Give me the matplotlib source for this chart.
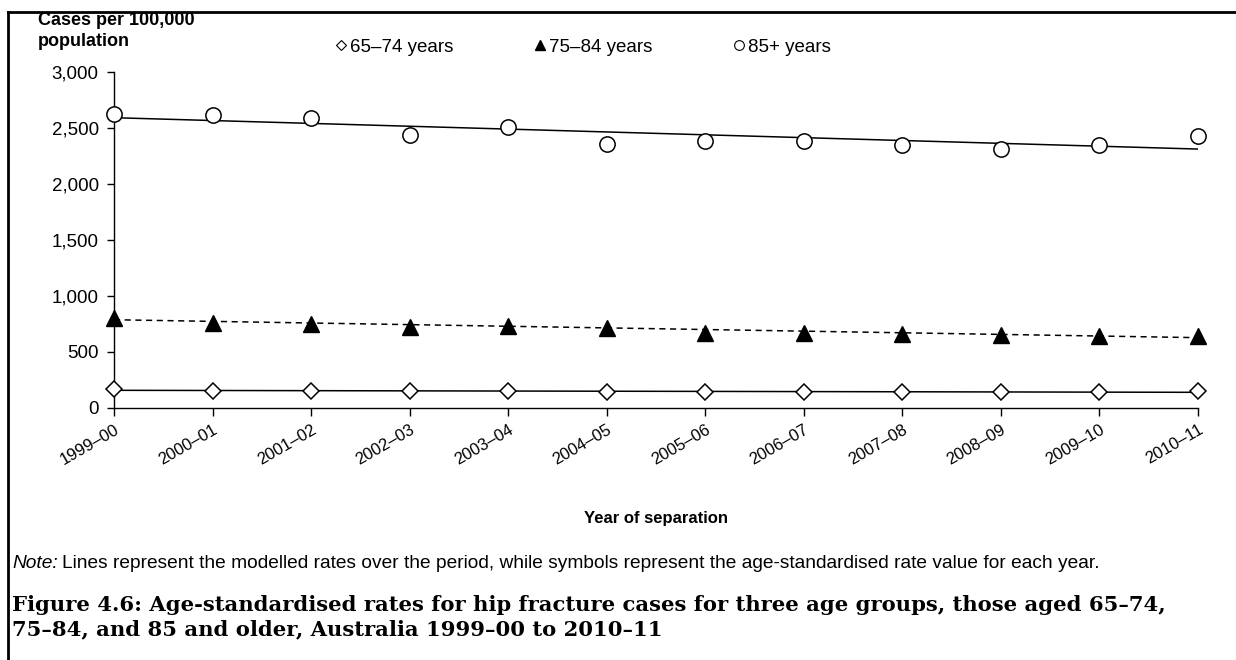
"""
plot.py

Hip fracture rates per 100,000 population for three age groups,
Australia 1999-00 to 2010-11 (symbols = yearly rates, lines = modelled trend).
"""

import matplotlib
matplotlib.use("Agg")
from matplotlib import pyplot as plt
from matplotlib.lines import Line2D
from matplotlib.ticker import FuncFormatter


# Financial years on the x axis
years = ["1999–00", "2000–01", "2001–02", "2002–03", "2003–04", "2004–05",
         "2005–06", "2006–07", "2007–08", "2008–09", "2009–10", "2010–11"]

# Age-standardised rates
rates_65_74 = [170, 155, 150, 148, 148, 145, 145, 145, 145, 143, 143, 148]
rates_75_84 = [801, 763, 747, 721, 731, 715, 673, 673, 660, 651, 644, 641]
rates_85_up = [2625, 2620, 2590, 2440, 2510, 2355, 2385, 2385, 2350, 2315, 2345, 2425]

# Modelled trend lines: value at first and last year
trend_65_74 = [158, 140]
trend_75_84 = [788, 628]
trend_85_up = [2592, 2312]

W, H = 1236, 660
plt.rcParams["font.family"] = ["Liberation Sans", "DejaVu Sans"]

fig = plt.figure(figsize=(W / 100, H / 100), dpi=100)
# plot area: x from 114 to 1198 px, y from 72 to 408 px
ax = fig.add_axes([114 / W, 1 - 408 / H, (1198 - 114) / W, (408 - 72) / H])

x = list(range(len(years)))
trend_x = [x[0], x[-1]]

# Trend lines first so the symbols sit on top
ax.plot(trend_x, trend_85_up, color="black", lw=1.1)
ax.plot(trend_x, trend_75_84, color="black", lw=1.1, ls=(0, (4, 3)))
ax.plot(trend_x, trend_65_74, color="black", lw=1.1)

ax.plot(x, rates_65_74, ls="none", marker="D", ms=8, mfc="white",
        mec="black", mew=1.1, clip_on=False, zorder=5)
ax.plot(x, rates_75_84, ls="none", marker="^", ms=11, color="black",
        clip_on=False, zorder=5)
ax.plot(x, rates_85_up, ls="none", marker="o", ms=11, mfc="white",
        mec="black", mew=1.1, clip_on=False, zorder=5)

ax.set_xlim(0, 11)
ax.set_ylim(0, 3000)
ax.set_yticks(range(0, 3001, 500))
ax.yaxis.set_major_formatter(FuncFormatter(lambda v, p: f"{int(v):,}"))
ax.set_xticks(x)
ax.set_xticklabels(years, rotation=30, ha="right", rotation_mode="anchor")

for side in ["top", "right"]:
    ax.spines[side].set_visible(False)
for side in ["left", "bottom"]:
    ax.spines[side].set_linewidth(1.0)
ax.tick_params(axis="y", direction="out", length=5, width=1, labelsize=13.5, pad=6)
ax.tick_params(axis="x", direction="out", length=6, width=1, labelsize=12, pad=4)

# Axis titles
fig.text(38 / W, 1 - 31 / H, "Cases per 100,000\npopulation", fontsize=13,
         fontweight="bold", ha="left", va="center", linespacing=1.3)
fig.text(656 / W, 1 - 519 / H, "Year of separation", fontsize=12,
         fontweight="bold", ha="center", va="center")

# Legend as a single row across the top
handles = [
    Line2D([], [], ls="none", marker="D", ms=5, mfc="white", mec="black", mew=0.8),
    Line2D([], [], ls="none", marker="^", ms=7, color="black"),
    Line2D([], [], ls="none", marker="o", ms=7, mfc="white", mec="black", mew=0.8),
]
fig.legend(handles, ["65–74 years", "75–84 years", "85+ years"],
           loc="center left", bbox_to_anchor=(326 / W, 1 - 47 / H),
           ncol=3, frameon=False, fontsize=13.5, handlelength=0.6,
           handletextpad=0.2, columnspacing=4.3, borderpad=0)

# Note: italic lead-in, then the rest placed right after it
note_y = 1 - 564 / H
lead = fig.text(12 / W, note_y, "Note:", fontsize=13.8, style="italic",
                ha="left", va="center")
fig.canvas.draw()
lead_end = fig.transFigure.inverted().transform(
    lead.get_window_extent().get_points())[1][0]
fig.text(lead_end + 4 / W, note_y,
         "Lines represent the modelled rates over the period, while symbols "
         "represent the age-standardised rate value for each year.",
         fontsize=13.8, ha="left", va="center")

# Figure caption
fig.text(12 / W, 1 - 617 / H,
         "Figure 4.6: Age-standardised rates for hip fracture cases for three age "
         "groups, those aged 65–74,\n75–84, and 85 and older, Australia 1999–00 to 2010–11",
         fontsize=15.2, fontweight="bold", family=["DejaVu Serif"],
         ha="left", va="center", linespacing=1.25)

# Frame lines along the top and the left edge
fig.add_artist(Line2D([8 / W, 1], [1 - 12 / H, 1 - 12 / H],
                      color="black", lw=2, transform=fig.transFigure))
fig.add_artist(Line2D([8 / W, 8 / W], [0, 1 - 12 / H],
                      color="black", lw=2, transform=fig.transFigure))

fig.savefig("out.png", dpi=100)
